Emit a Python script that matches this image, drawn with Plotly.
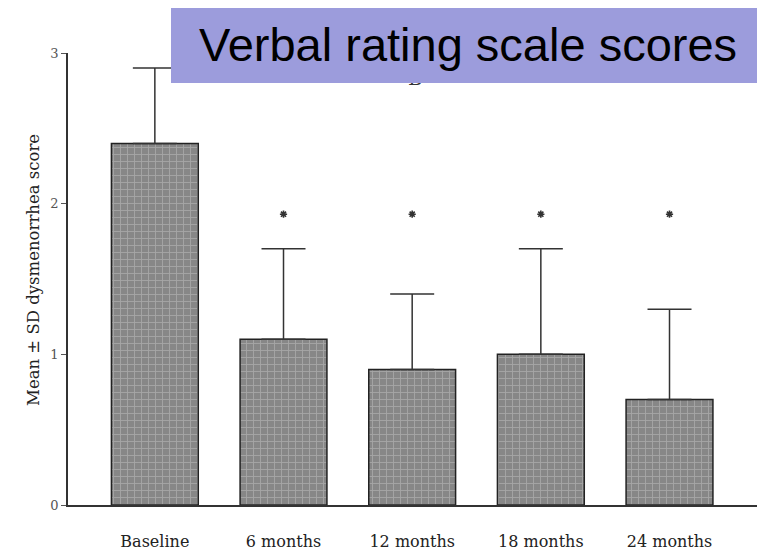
import plotly.graph_objects as go

categories = ["Baseline", "6 months", "12 months", "18 months", "24 months"]
means = [2.4, 1.1, 0.9, 1.0, 0.7]
sds = [0.5, 0.6, 0.5, 0.7, 0.6]
sig_categories = ["6 months", "12 months", "18 months", "24 months"]
sig_y = [1.93, 1.93, 1.93, 1.93]
y_ticks = [0, 1, 2, 3]
title_text = "Verbal rating scale scores"
y_title = "Mean ± SD dysmenorrhea score"

serif = "DejaVu Serif, Liberation Serif, serif"
OFF = 8  # page body margin
W, H = 765 - OFF, 550 - OFF
# plot area in page pixels
PX0, PX1, PY0, PY1 = 68, 757, 53, 505
L, R, T, B = PX0 - OFF, 765 - PX1, PY0 - OFF, 550 - PY1


def px(xp):
    return (xp - PX0) / (PX1 - PX0)


def py(yp):
    return (PY1 - yp) / (PY1 - PY0)


fig = go.Figure()
fig.add_trace(go.Bar(
    x=categories, y=means, width=0.675,
    marker=dict(color="#8a8a8a",
                line=dict(color="#222222", width=1.5),
                pattern=dict(shape="+", fgcolor="#c4c4c4", bgcolor="#878787",
                             size=7, solidity=0.25, fillmode="overlay")),
    error_y=dict(type="data", symmetric=False, array=sds,
                 arrayminus=[0] * len(sds), color="#333333",
                 thickness=1.5, width=22),
    showlegend=False, hoverinfo="skip",
))
fig.add_trace(go.Scatter(
    x=sig_categories, y=sig_y, mode="markers",
    marker=dict(symbol="asterisk-open", size=6, color="#333333",
                line=dict(color="#333333", width=1.6)),
    showlegend=False, hoverinfo="skip",
))

fig.update_layout(
    width=W, height=H,
    margin=dict(l=L, r=R, t=T, b=B),
    paper_bgcolor="white", plot_bgcolor="white",
    xaxis=dict(range=[-0.675, 4.68], showline=True, linecolor="#333333",
               linewidth=1.5, ticks="", showgrid=False, zeroline=False,
               tickfont=dict(family=serif, size=16, color="#222222"),
               ticklabelstandoff=21, automargin=False, fixedrange=True),
    yaxis=dict(range=[0, 3], tickvals=y_ticks, showline=True,
               linecolor="#333333", linewidth=1.5, ticks="outside",
               ticklen=5, tickcolor="#555555", showgrid=False, zeroline=False,
               tickfont=dict(family=serif, size=13, color="#555555"),
               automargin=False, fixedrange=True),
    annotations=[
        dict(text="B", xref="paper", yref="paper",
             x=px(415), y=py(78),
             showarrow=False, font=dict(family=serif, size=20, color="#333333"),
             xanchor="center", yanchor="middle"),
        dict(text=y_title, textangle=-90, xref="paper", yref="paper",
             x=px(33), y=py(270),
             showarrow=False, font=dict(family=serif, size=16.5, color="#222222"),
             xanchor="center", yanchor="middle"),
    ],
)
# Title box
fig.add_annotation(
    text=title_text, xref="paper", yref="paper",
    x=px(171), y=py(6),
    xanchor="left", yanchor="top", showarrow=False, align="center",
    width=594 - 6, height=77 - 6, bgcolor="#9c9cdc", borderpad=3, borderwidth=0,
    font=dict(family="Liberation Sans, Arial, sans-serif", size=47, color="black"),
)

fig.write_html("out.html")
